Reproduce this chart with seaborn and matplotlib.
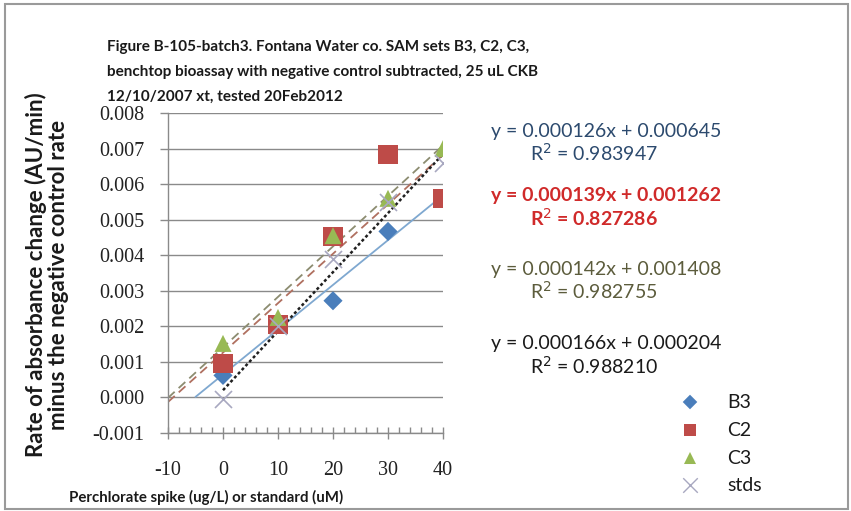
import numpy as np
import pandas as pd
import matplotlib
matplotlib.use("Agg")
import matplotlib.pyplot as plt
from matplotlib.patches import Rectangle
from matplotlib.ticker import MultipleLocator, FormatStrFormatter
import seaborn as sns

# ---- data ----
x_vals = [0, 10, 20, 30, 40]
b3 = [0.00062, 0.00210, 0.00272, 0.00467, 0.00560]
c2 = [0.00095, 0.00205, 0.00453, 0.00683, 0.00560]
c3 = [0.00152, 0.00225, 0.00455, 0.00560, 0.00700]
stds = [-0.00003, 0.00200, 0.00390, 0.00550, 0.00660]
series_names = ["B3", "C2", "C3", "stds"]
slopes = [0.000126, 0.000139, 0.000142, 0.000166]
intercepts = [0.000645, 0.001262, 0.001408, 0.000204]
trend_start = [-5, -10, -10, 0]
eq_text = ["y = 0.000126x + 0.000645", "y = 0.000139x + 0.001262",
           "y = 0.000142x + 0.001408", "y = 0.000166x + 0.000204"]
r2_text = ["R$^2$ = 0.983947", "R$^2$ = 0.827286",
           "R$^2$ = 0.982755", "R$^2$ = 0.988210"]
title = ("Figure B-105-batch3. Fontana Water co. SAM sets B3, C2, C3,\n"
         "benchtop bioassay with negative control subtracted, 25 uL CKB\n"
         "12/10/2007 xt, tested 20Feb2012")
xlabel = "Perchlorate spike (ug/L) or standard (uM)"
ylabel = "Rate of absorbance change (AU/min)\nminus the negative control rate"

# ---- styles ----
marker_colors = ["#4a7ebb", "#be4b48", "#98b954", "#a8a8c0"]
markers = ["D", "s", "^", "x"]
msizes = [95, 190, 150, 150]
line_colors = ["#7fa8d0", "#b07060", "#8c8c70", "#202020"]
line_styles = ["-", (0, (5, 3)), (0, (5, 3)), (0, (1.2, 1))]
eq_colors = ["#2c4a6e", "#d02a2a", "#5c5c3c", "#1a1a1a"]

sns.set_theme(style="white")
plt.rcParams["font.family"] = ["Lato", "DejaVu Sans"]
plt.rcParams["axes.unicode_minus"] = False

df = pd.DataFrame({
    "x": x_vals * 4,
    "y": b3 + c2 + c3 + stds,
    "series": sum([[n] * len(x_vals) for n in series_names], []),
})

fig = plt.figure(figsize=(8.51, 5.11), dpi=100)
ax = fig.add_axes([168 / 851, 1 - 433 / 511, 275 / 851, 320 / 511])

# trendlines
for i, n in enumerate(series_names):
    xs = np.array([trend_start[i], 40])
    tl = pd.DataFrame({"x": xs, "y": slopes[i] * xs + intercepts[i]})
    sns.lineplot(data=tl, x="x", y="y", ax=ax, color=line_colors[i],
                 linestyle=line_styles[i], linewidth=1.3 if i < 3 else 1.8,
                 zorder=2)

# markers
for i, n in enumerate(series_names):
    sub = df[df["series"] == n]
    kw = dict(edgecolor="none") if markers[i] != "x" else dict(linewidth=1.2)
    sns.scatterplot(data=sub, x="x", y="y", ax=ax, marker=markers[i],
                    s=msizes[i], color=marker_colors[i], zorder=3 + i,
                    legend=False, **kw)

ax.set_xlim(-10, 40)
ax.set_ylim(-0.001, 0.008)
ax.xaxis.set_major_locator(MultipleLocator(10))
ax.xaxis.set_minor_locator(MultipleLocator(2))
ax.yaxis.set_major_locator(MultipleLocator(0.001))
ax.yaxis.set_major_formatter(FormatStrFormatter("%.3f"))
ax.grid(axis="y", color="#8a8a8a", linewidth=1.0)
ax.grid(axis="x", visible=False)
ax.set_axisbelow(True)
for s in ["top", "right"]:
    ax.spines[s].set_visible(False)
for s in ["left", "bottom"]:
    ax.spines[s].set_color("#8a8a8a")
    ax.spines[s].set_linewidth(1.0)
ax.tick_params(axis="x", which="major", direction="inout", length=9,
               color="#8a8a8a", width=1.0, bottom=True, pad=16)
ax.tick_params(axis="x", which="minor", direction="in", length=4,
               color="#8a8a8a", width=1.0, bottom=True)
ax.tick_params(axis="y", which="major", direction="out", length=6,
               color="#8a8a8a", width=1.0, left=True, pad=11)
for lab in ax.get_xticklabels() + ax.get_yticklabels():
    lab.set_fontfamily("Liberation Serif")
    lab.set_fontsize(14.5)
    lab.set_color("#222222")
ax.set_xlabel("")
ax.set_ylabel("")

# title & labels
fig.text(107 / 851, 1 - 72 / 511, title, ha="left", va="center",
         fontsize=11, fontweight="bold", color="#1a1a1a", linespacing=2.0)
fig.text(206 / 851, 1 - 497 / 511, xlabel, ha="center", va="center",
         fontsize=10.8, fontweight="bold", color="#1a1a1a")
fig.text(47 / 851, 1 - 275 / 511, ylabel, ha="center", va="center",
         rotation=90, fontsize=16, fontweight="bold", color="#1a1a1a",
         linespacing=1.1)

# equations
eq_y = [131, 196, 269, 344]
for i in range(4):
    wt = "bold" if i == 1 else "normal"
    fig.text(606 / 851, 1 - eq_y[i] / 511, eq_text[i], ha="center",
             va="center", fontsize=14, color=eq_colors[i], fontweight=wt)
    fig.text(594 / 851, 1 - (eq_y[i] + 22) / 511, r2_text[i], ha="center",
             va="center", fontsize=14, color=eq_colors[i], fontweight=wt)

# legend
leg_y = [402, 430, 458, 485]
for i, n in enumerate(series_names):
    kw = dict(edgecolors="none") if markers[i] != "x" else dict(linewidths=1.0)
    ax.scatter([690 / 851], [1 - leg_y[i] / 511], transform=fig.transFigure,
               marker=markers[i], s=[55, 80, 75, 110][i], color=marker_colors[i],
               clip_on=False, **kw)
    fig.text(727 / 851, 1 - leg_y[i] / 511, n, ha="left", va="center",
             fontsize=14, color="#1a1a1a")

# outer frame
fig.add_artist(Rectangle((5 / 851, 2 / 511), 843 / 851, 505 / 511,
                         transform=fig.transFigure, fill=False,
                         edgecolor="#9a9a9a", linewidth=1.5))

fig.savefig("out.png", dpi=100)
